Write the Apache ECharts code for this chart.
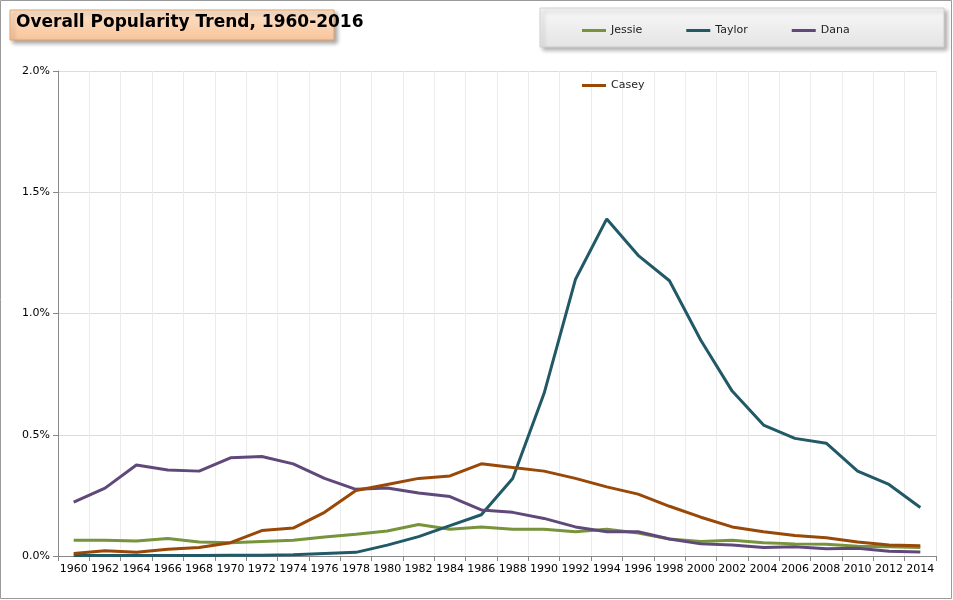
<!DOCTYPE html>
<html>
<head>
<meta charset="utf-8">
<script src="https://cdn.jsdelivr.net/npm/echarts@6/dist/echarts.min.js"></script>
<style>
  html, body { margin: 0; padding: 0; background: #fff; }
  #chart { width: 953px; height: 600px; }
</style>
</head>
<body>
<div id="chart"></div>
<script>
let years = [];
for (let y = 1960; y <= 2014; y += 2) years.push(String(y));

let jessie = [0.065, 0.065, 0.062, 0.072, 0.058, 0.055, 0.06, 0.065, 0.078, 0.09, 0.103, 0.13, 0.11, 0.12,
  0.11, 0.11, 0.1, 0.11, 0.095, 0.07, 0.06, 0.065, 0.055, 0.05, 0.048, 0.04, 0.038, 0.035];
let taylor = [0.002, 0.002, 0.002, 0.002, 0.002, 0.003, 0.003, 0.005, 0.01, 0.015, 0.045, 0.08, 0.125, 0.17,
  0.32, 0.67, 1.14, 1.39, 1.24, 1.135, 0.89, 0.68, 0.54, 0.485, 0.465, 0.35, 0.295, 0.2];
let dana = [0.222, 0.28, 0.375, 0.355, 0.35, 0.405, 0.41, 0.38, 0.32, 0.275, 0.28, 0.26, 0.245, 0.19,
  0.18, 0.155, 0.12, 0.1, 0.1, 0.07, 0.05, 0.045, 0.035, 0.038, 0.03, 0.032, 0.02, 0.017];
let casey = [0.01, 0.022, 0.015, 0.028, 0.035, 0.055, 0.105, 0.115, 0.18, 0.27, 0.295, 0.32, 0.33, 0.38,
  0.365, 0.35, 0.32, 0.285, 0.255, 0.205, 0.16, 0.12, 0.1, 0.085, 0.075, 0.058, 0.045, 0.042];

let chart = echarts.init(document.getElementById('chart'), null, { renderer: 'canvas' });

function line(name, data, color) {
  return {
    name: name, type: 'line', data: data, symbol: 'none',
    lineStyle: { width: 3, color: color }, itemStyle: { color: color }
  };
}

chart.setOption({
  animation: false,
  textStyle: { fontFamily: 'DejaVu Sans' },
  graphic: [
    { type: 'rect', shape: { x: 0.5, y: 0.5, width: 951, height: 598 },
      style: { fill: 'none', stroke: '#9a9a9a', lineWidth: 1 }, z: -10 },
    { type: 'rect', shape: { x: 10, y: 10, width: 324, height: 30 },
      style: { fill: new echarts.graphic.LinearGradient(0, 0, 0, 1, [
        { offset: 0, color: '#fde3cc' }, { offset: 1, color: '#f9c49a' }]),
        stroke: '#e3a36f', lineWidth: 1, shadowBlur: 4, shadowOffsetX: 3, shadowOffsetY: 3,
        shadowColor: 'rgba(0,0,0,0.35)' }, z: 0 },
    { type: 'text', left: 16, top: 14, z: 1,
      style: { text: 'Overall Popularity Trend, 1960-2016', fontSize: 17, fontWeight: 'bold',
        fill: '#000', fontFamily: 'DejaVu Sans' } },
    { type: 'rect', shape: { x: 540, y: 8, width: 404, height: 39 },
      style: { fill: new echarts.graphic.LinearGradient(0, 0, 0, 1, [
        { offset: 0, color: '#f8f8f8' }, { offset: 1, color: '#e4e4e4' }]),
        stroke: '#d0d0d0', lineWidth: 1, shadowBlur: 4, shadowOffsetX: 3, shadowOffsetY: 3,
        shadowColor: 'rgba(0,0,0,0.3)' }, z: 0 }
  ],
  legend: {
    top: 20, left: 577, itemGap: 44, itemWidth: 24, itemHeight: 3, z: 5,
    icon: 'rect',
    textStyle: { fontSize: 11, color: '#222' },
    data: ['Jessie', 'Taylor', 'Dana', 'Casey']
  },
  grid: { left: 58, right: 17, top: 71, bottom: 44 },
  xAxis: {
    type: 'category', data: years, boundaryGap: true,
    axisLine: { lineStyle: { color: '#888' } },
    axisTick: { show: true, alignWithLabel: false, lineStyle: { color: '#888' } },
    axisLabel: { color: '#000', fontSize: 11, interval: 0, margin: 8 },
    splitLine: { show: true, lineStyle: { color: '#ececec' } }
  },
  yAxis: {
    type: 'value', min: 0, max: 2, interval: 0.5,
    axisLine: { show: true, lineStyle: { color: '#888' } },
    axisTick: { show: true, lineStyle: { color: '#888' } },
    axisLabel: { color: '#000', fontSize: 11, formatter: function (v) { return v.toFixed(1) + '%'; } },
    splitLine: { lineStyle: { color: '#dcdcdc' } }
  },
  series: [
    line('Jessie', jessie, '#77933c'),
    line('Taylor', taylor, '#215967'),
    line('Dana', dana, '#60497a'),
    line('Casey', casey, '#984807')
  ]
});
</script>
</body>
</html>
